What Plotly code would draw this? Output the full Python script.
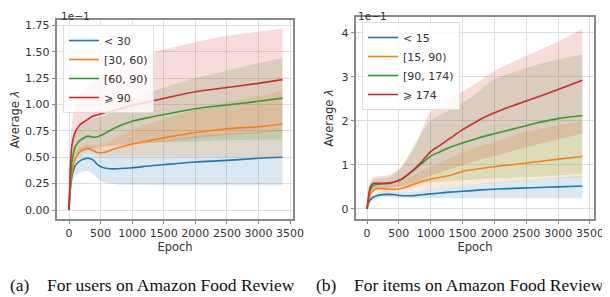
import plotly.graph_objects as go

# ---------------- data: (a) users ----------------
epochs_a = [0, 25, 50, 100, 150, 200, 300, 380, 450, 550, 700, 1000, 1300, 1600, 2000, 2500, 3000, 3380]
users_lt30 = [0, 0.22, 0.33, 0.42, 0.455, 0.475, 0.49, 0.475, 0.43, 0.40, 0.39, 0.40, 0.42, 0.435, 0.455, 0.47, 0.49, 0.50]
users_30_60 = [0, 0.25, 0.37, 0.49, 0.535, 0.56, 0.58, 0.565, 0.545, 0.545, 0.575, 0.625, 0.66, 0.695, 0.735, 0.77, 0.79, 0.815]
users_60_90 = [0, 0.31, 0.47, 0.60, 0.645, 0.67, 0.70, 0.69, 0.695, 0.72, 0.77, 0.84, 0.88, 0.915, 0.96, 0.995, 1.03, 1.06]
users_ge90 = [0, 0.45, 0.63, 0.74, 0.79, 0.82, 0.86, 0.89, 0.90, 0.92, 0.94, 0.99, 1.03, 1.07, 1.12, 1.16, 1.20, 1.235]

band_epochs_a = [0, 50, 100, 200, 300, 400, 500, 600, 800, 1000, 1500, 2000, 2500, 3000, 3380]
users_lt30_lo = [0, 0.25, 0.33, 0.36, 0.37, 0.33, 0.28, 0.255, 0.24, 0.24, 0.235, 0.235, 0.235, 0.235, 0.235]
users_lt30_hi = [0, 0.42, 0.52, 0.58, 0.60, 0.59, 0.58, 0.58, 0.60, 0.62, 0.66, 0.70, 0.72, 0.74, 0.76]
users_30_60_lo = [0, 0.33, 0.45, 0.52, 0.54, 0.53, 0.51, 0.51, 0.51, 0.51, 0.51, 0.50, 0.50, 0.50, 0.50]
users_30_60_hi = [0, 0.45, 0.55, 0.60, 0.62, 0.62, 0.62, 0.64, 0.70, 0.76, 0.86, 0.95, 1.02, 1.08, 1.13]
users_60_90_lo = [0, 0.40, 0.52, 0.56, 0.58, 0.59, 0.60, 0.61, 0.62, 0.63, 0.64, 0.65, 0.66, 0.665, 0.67]
users_60_90_hi = [0, 0.60, 0.75, 0.82, 0.85, 0.87, 0.88, 0.90, 0.97, 1.05, 1.16, 1.25, 1.32, 1.39, 1.44]
users_ge90_lo = [0, 0.45, 0.52, 0.56, 0.58, 0.58, 0.58, 0.59, 0.60, 0.62, 0.65, 0.68, 0.71, 0.73, 0.75]
users_ge90_hi = [0, 0.85, 1.00, 1.12, 1.18, 1.22, 1.26, 1.30, 1.36, 1.42, 1.52, 1.59, 1.65, 1.69, 1.72]

# ---------------- data: (b) items ----------------
epochs_b = [0, 30, 50, 100, 150, 250, 350, 450, 550, 700, 850, 1000, 1150, 1300, 1500, 1700, 1900, 2200, 2600, 3000, 3380]
items_lt15 = [0, 0.15, 0.20, 0.27, 0.30, 0.325, 0.33, 0.32, 0.30, 0.30, 0.32, 0.34, 0.36, 0.38, 0.40, 0.42, 0.44, 0.46, 0.48, 0.50, 0.52]
items_15_90 = [0, 0.22, 0.32, 0.42, 0.46, 0.46, 0.445, 0.445, 0.47, 0.54, 0.62, 0.68, 0.72, 0.76, 0.85, 0.90, 0.94, 0.99, 1.06, 1.13, 1.19]
items_90_174 = [0, 0.30, 0.43, 0.53, 0.56, 0.57, 0.58, 0.62, 0.68, 0.84, 1.02, 1.20, 1.30, 1.40, 1.50, 1.59, 1.67, 1.78, 1.93, 2.05, 2.12]
items_ge174 = [0, 0.35, 0.50, 0.58, 0.58, 0.58, 0.59, 0.62, 0.68, 0.85, 1.06, 1.30, 1.45, 1.60, 1.80, 1.97, 2.12, 2.30, 2.50, 2.71, 2.92]

band_epochs_b = [0, 50, 100, 200, 300, 500, 750, 1000, 1300, 1600, 2000, 2500, 3000, 3380]
items_lt15_lo = [0, 0.15, 0.20, 0.25, 0.27, 0.25, 0.24, 0.24, 0.24, 0.24, 0.24, 0.24, 0.24, 0.24]
items_lt15_hi = [0, 0.25, 0.32, 0.38, 0.40, 0.38, 0.40, 0.45, 0.50, 0.55, 0.60, 0.66, 0.71, 0.75]
items_15_90_lo = [0, 0.25, 0.35, 0.38, 0.38, 0.38, 0.41, 0.45, 0.50, 0.55, 0.59, 0.65, 0.69, 0.72]
items_15_90_hi = [0, 0.40, 0.50, 0.55, 0.55, 0.60, 0.78, 0.95, 1.15, 1.35, 1.52, 1.75, 1.90, 2.00]
items_90_174_lo = [0, 0.32, 0.42, 0.45, 0.45, 0.50, 0.55, 0.60, 0.63, 0.66, 0.69, 0.72, 0.76, 0.80]
items_90_174_hi = [0, 0.55, 0.65, 0.69, 0.70, 0.88, 1.49, 2.00, 2.25, 2.50, 2.94, 3.20, 3.40, 3.51]
items_ge174_lo = [0, 0.35, 0.45, 0.45, 0.45, 0.50, 0.60, 0.75, 0.90, 1.04, 1.20, 1.40, 1.58, 1.71]
items_ge174_hi = [0, 0.60, 0.72, 0.74, 0.75, 0.90, 1.40, 2.20, 2.50, 2.75, 3.13, 3.48, 3.80, 4.10]

names_a = ["< 30", "[30, 60)", "[60, 90)", "⩾ 90"]
names_b = ["< 15", "[15, 90)", "[90, 174)", "⩾ 174"]
colors = ["#1f77b4", "#ff7f0e", "#2ca02c", "#d62728"]
fills = ["rgba(31,119,180,0.17)", "rgba(255,127,14,0.17)", "rgba(44,160,44,0.17)", "rgba(214,39,40,0.17)"]

ticks_x = [0, 500, 1000, 1500, 2000, 2500, 3000, 3500]
ticks_ya = [0, 0.25, 0.5, 0.75, 1.0, 1.25, 1.5, 1.75]
ticktext_ya = ["0.00", "0.25", "0.50", "0.75", "1.00", "1.25", "1.50", "1.75"]
ticks_yb = [0, 1, 2, 3, 4]

fig = go.Figure()

def add_panel(xref, yref, legend, ep, lines, bep, bands, names):
    for i in range(4):
        lo, hi = bands[i]
        fig.add_trace(go.Scatter(x=bep, y=lo, xaxis=xref, yaxis=yref, mode="lines",
                                 line=dict(width=0, shape="spline", smoothing=0.8),
                                 showlegend=False, hoverinfo="skip"))
        fig.add_trace(go.Scatter(x=bep, y=hi, xaxis=xref, yaxis=yref, mode="lines",
                                 line=dict(width=0, shape="spline", smoothing=0.8),
                                 fill="tonexty", fillcolor=fills[i],
                                 showlegend=False, hoverinfo="skip"))
    for i in range(4):
        fig.add_trace(go.Scatter(x=ep, y=lines[i], xaxis=xref, yaxis=yref, mode="lines",
                                 name=names[i], legend=legend,
                                 line=dict(color=colors[i], width=1.6, shape="spline", smoothing=0.8)))

add_panel("x", "y", "legend", epochs_a, [users_lt30, users_30_60, users_60_90, users_ge90],
          band_epochs_a,
          [(users_lt30_lo, users_lt30_hi), (users_30_60_lo, users_30_60_hi),
           (users_60_90_lo, users_60_90_hi), (users_ge90_lo, users_ge90_hi)], names_a)
add_panel("x2", "y2", "legend2", epochs_b, [items_lt15, items_15_90, items_90_174, items_ge174],
          band_epochs_b,
          [(items_lt15_lo, items_lt15_hi), (items_15_90_lo, items_15_90_hi),
           (items_90_174_lo, items_90_174_hi), (items_ge174_lo, items_ge174_hi)], names_b)

# the page body keeps an 8px margin, so the figure is 8px smaller and positions are given in window pixels
OFF = 8
W, H = 610 - OFF, 297 - OFF
font = "DejaVu Sans, Liberation Sans, sans-serif"
axcommon = dict(showgrid=True, gridcolor="#dedede", gridwidth=1, zeroline=False,
                showline=True, linecolor="#8a8a8a", linewidth=1.5, mirror=True,
                ticks="outside", ticklen=3.5, tickcolor="#8a8a8a", tickwidth=1, automargin=False,
                tickfont=dict(family=font, size=11, color="#333333"))

def px(v):
    return (v - OFF) / W

def py(v):
    return 1 - (v - OFF) / H

legcommon = dict(xanchor="left", yanchor="top", traceorder="normal",
                 bgcolor="rgba(255,255,255,0.8)", bordercolor="#dcdcdc", borderwidth=1,
                 font=dict(family=font, size=11, color="#333333"), itemwidth=30, tracegroupgap=0)

serif = "Liberation Serif, DejaVu Serif, serif"
fig.update_layout(
    width=W, height=H, margin=dict(l=0, r=0, t=0, b=0, autoexpand=False),
    paper_bgcolor="white", plot_bgcolor="white",
    font=dict(family=font, size=11, color="#333333"),
    xaxis=dict(domain=[px(57), px(293)], range=[-190, 3547], tickvals=ticks_x,
               title=dict(text="Epoch", font=dict(size=11.5), standoff=2), anchor="y", **axcommon),
    yaxis=dict(domain=[py(219), py(20)], range=[-0.085, 1.80], tickvals=ticks_ya, ticktext=ticktext_ya,
               title=dict(text="Average <i>λ</i>", font=dict(size=11.5), standoff=6), anchor="x", **axcommon),
    xaxis2=dict(domain=[px(356), px(594)], range=[-173, 3563], tickvals=ticks_x,
                title=dict(text="Epoch", font=dict(size=11.5), standoff=2), anchor="y2", **axcommon),
    yaxis2=dict(domain=[py(219), py(17)], range=[-0.23, 4.36], tickvals=ticks_yb,
                title=dict(text="Average <i>λ</i>", font=dict(size=11.5), standoff=6), anchor="x2", **axcommon),
    legend=dict(x=px(63), y=py(25), **legcommon),
    legend2=dict(x=px(362), y=py(22), **legcommon),
    annotations=[
        dict(text="1e\u22121", x=px(59), y=1.0, xref="paper", yref="paper", showarrow=False,
             xanchor="left", yanchor="top", font=dict(family=font, size=10.5, color="#333333")),
        dict(text="1e\u22121", x=px(356), y=1.0, xref="paper", yref="paper", showarrow=False,
             xanchor="left", yanchor="top", font=dict(family=font, size=10.5, color="#333333")),
        dict(text="(a)\u2003For users on Amazon Food Review", x=px(152), y=py(285), xref="paper", yref="paper",
             showarrow=False, xanchor="center", yanchor="middle",
             font=dict(family=serif, size=17.5, color="#111111")),
        dict(text="(b)\u2003For items on Amazon Food Review", x=px(460), y=py(285), xref="paper", yref="paper",
             showarrow=False, xanchor="center", yanchor="middle",
             font=dict(family=serif, size=17.5, color="#111111")),
    ],
)

fig.write_html("out.html")
